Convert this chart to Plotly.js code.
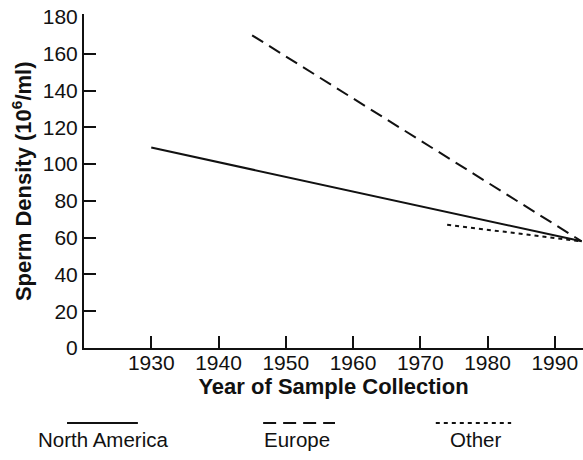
<!DOCTYPE html>
<html>
<head>
<meta charset="utf-8">
<script src="https://cdn.plot.ly/plotly-3.0.1.min.js"></script>
<style>html,body{margin:0;padding:0;background:#fff;}#chart{width:583px;height:460px;}</style>
</head>
<body>
<div id="chart"></div>
<script>
// Data
const seriesNames = ["North America", "Europe", "Other"];
const naYears = [1930, 1994];
const naDensity = [109, 58];
const euYears = [1945, 1994];
const euDensity = [170, 58];
const otherYears = [1974, 1994];
const otherDensity = [67, 58];
const xTicks = [1930, 1940, 1950, 1960, 1970, 1980, 1990];
const yTicks = [0, 20, 40, 60, 80, 100, 120, 140, 160, 180];
const yTickMarks = [20, 40, 60, 80, 100, 120, 140, 160];
const xTitle = "Year of Sample Collection";
const yTitle = "Sperm Density (10<sup>6</sup>/ml)";

const dashes = ["solid", "13px,7px", "4px,4px"];
const widths = [2, 2, 2];
const FONT = "'Liberation Sans', Arial, Helvetica, sans-serif";

const xs = [naYears, euYears, otherYears];
const ys = [naDensity, euDensity, otherDensity];
const traces = seriesNames.map((n, i) => ({
  x: xs[i], y: ys[i], name: n, mode: "lines", type: "scatter",
  line: {color: "#111", width: widths[i], dash: dashes[i]},
  showlegend: false, hoverinfo: "skip"
}));
// invisible trace to drive the second y axis (tick marks only)
traces.push({x: [1920], y: [0], yaxis: "y2", mode: "markers", marker: {opacity: 0}, showlegend: false, hoverinfo: "skip"});

// Legend laid out below the plot: sample line above each name
const legX0 = [-0.034, 0.359, 0.705];
const legX1 = [0.108, 0.503, 0.856];
const legTextX = [0.038, 0.427, 0.784];
const shapes = seriesNames.map((n, i) => ({
  type: "line", xref: "paper", yref: "paper",
  x0: legX0[i], x1: legX1[i], y0: -0.2246, y1: -0.2246,
  line: {color: "#111", width: 2, dash: dashes[i]}
}));
const annotations = seriesNames.map((n, i) => ({
  text: n, xref: "paper", yref: "paper", x: legTextX[i], y: -0.2754,
  xanchor: "center", yanchor: "middle", showarrow: false,
  font: {family: FONT, size: 20.5, color: "#111"}
}));
// y-axis title as a rotated annotation for exact placement
annotations.push({
  text: "<b>" + yTitle + "</b>", xref: "paper", yref: "paper", x: -0.124, y: 0.5,
  xanchor: "center", yanchor: "middle", textangle: -90, showarrow: false,
  font: {family: FONT, size: 22, color: "#111"}
});

const layout = {
  width: 583, height: 460,
  margin: {l: 84, r: 0, t: 14, b: 112, pad: 0},
  paper_bgcolor: "#fff", plot_bgcolor: "#fff",
  showlegend: false,
  xaxis: {
    range: [1920, 1994.2], tickvals: xTicks, ticks: "inside", ticklen: 12, tickwidth: 2, tickcolor: "#111",
    showline: true, linecolor: "#111", linewidth: 2, showgrid: false, zeroline: false,
    ticklabelstandoff: -5,
    tickfont: {family: FONT, size: 21, color: "#111"},
    title: {text: "<b>" + xTitle + "</b>", font: {family: FONT, size: 22, color: "#111"}, standoff: 0}
  },
  yaxis: {
    range: [0, 181.6], tickvals: yTicks, ticks: "",
    showline: true, linecolor: "#111", linewidth: 2, showgrid: false, zeroline: false,
    tickfont: {family: FONT, size: 21, color: "#111"}
  },
  yaxis2: {
    overlaying: "y", side: "left", range: [0, 181.6], tickvals: yTickMarks, ticks: "inside", ticklen: 12, tickwidth: 2, tickcolor: "#111",
    showticklabels: false, showline: false, showgrid: false, zeroline: false
  },
  shapes: shapes,
  annotations: annotations
};

Plotly.newPlot("chart", traces, layout, {staticPlot: true, displayModeBar: false});
</script>
</body>
</html>
